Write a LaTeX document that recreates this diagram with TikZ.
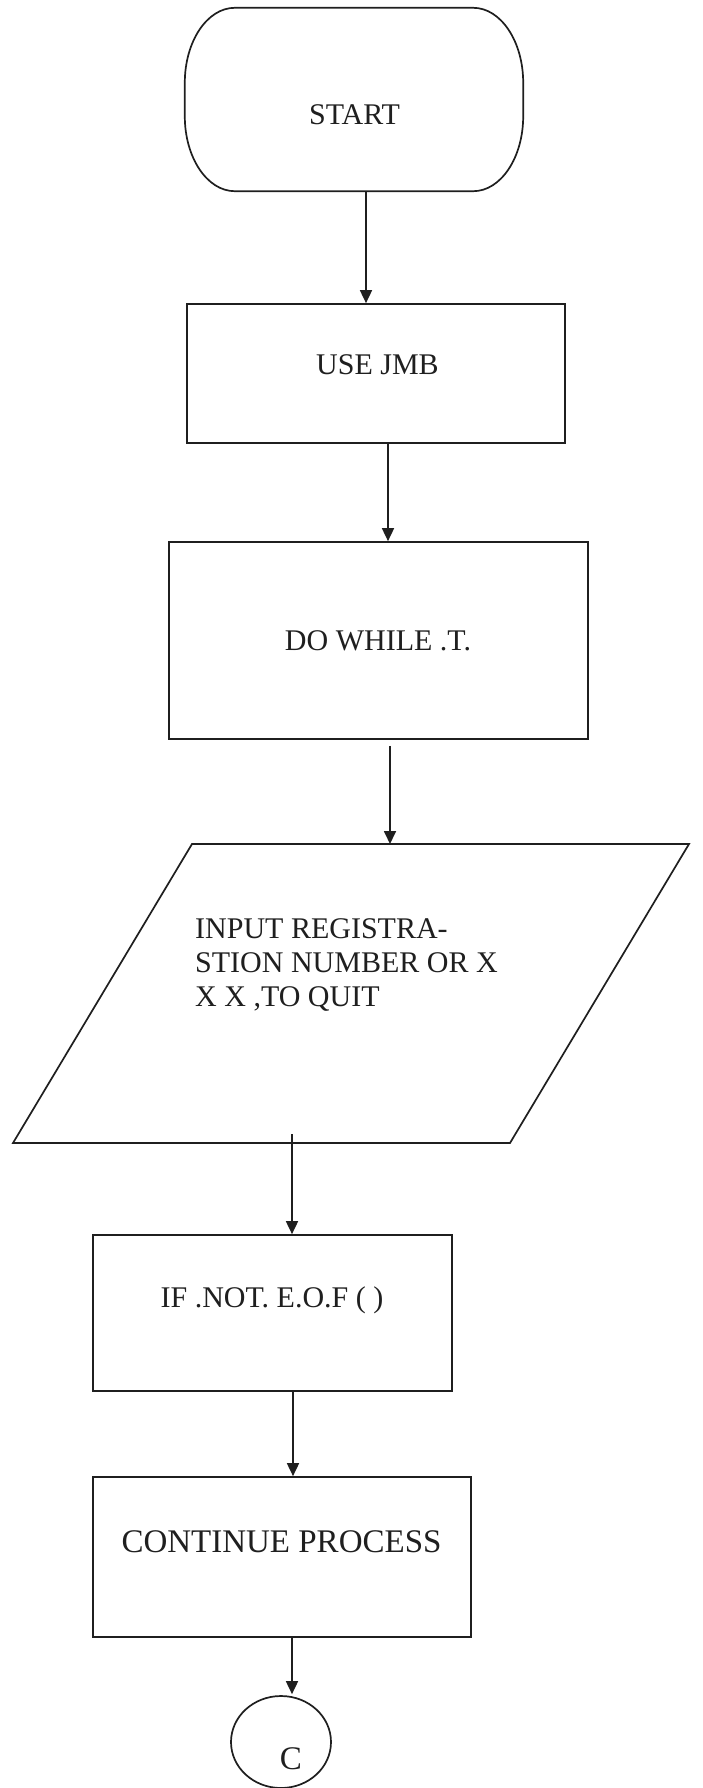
\documentclass[tikz,border=0pt]{standalone}
\usepackage{fontspec}
\setmainfont{Liberation Serif}
\usetikzlibrary{arrows.meta,shapes.geometric}
\begin{document}
\begin{tikzpicture}[x=1pt,y=1pt,
  ink/.style={black!88},
  outline/.style={draw=black!88, line width=1.7pt},
  box/.style={outline, rectangle, inner sep=0pt},
  frame/.style={rectangle, inner sep=0pt},
  lbl/.style={inner sep=0pt, text=black!88, text height=20pt, text depth=0pt,
    font=\fontsize{30}{34}\selectfont},
  biglbl/.style={lbl, text height=22pt, font=\fontsize{33}{36}\selectfont},
  para/.style={inner sep=0pt, text=black!88, align=left,
    font=\fontsize{30}{34}\selectfont},
  flow/.style={draw=black!88, line width=1.7pt,
    -{Triangle[length=13pt,width=12pt]}}]

\useasboundingbox[fill=white] (0,0) rectangle (702,-1788);

% terminal: flat top and bottom, elliptic ends
\node[frame, minimum width=338pt, minimum height=183pt] (start) at (354,-99.5) {};
\draw[outline]
  ([xshift=50pt]start.north west) -- ([xshift=-50pt]start.north east)
  arc[start angle=90, end angle=0, x radius=50, y radius=75]
  -- ([yshift=75pt]start.south east)
  arc[start angle=0, end angle=-90, x radius=50, y radius=75]
  -- ([xshift=50pt]start.south west)
  arc[start angle=270, end angle=180, x radius=50, y radius=75]
  -- ([yshift=-75pt]start.north west)
  arc[start angle=180, end angle=90, x radius=50, y radius=75]
  -- cycle;
\node[lbl] (starttxt) at (354.5,-114) {START};

% process boxes
\node[box, minimum width=378pt, minimum height=139pt] (usejmb) at (376,-373.5) {};
\node[lbl] (usejmbtxt) at (377.5,-364) {USE JMB};

\node[box, minimum width=419pt, minimum height=197pt] (dowhile) at (378.5,-640.5) {};
\node[lbl] (dowhiletxt) at (378,-640) {DO WHILE .T.};

% input parallelogram
\coordinate (pTL) at (192,-844);
\coordinate (pTR) at (689,-844);
\coordinate (pBR) at (510,-1143);
\coordinate (pBL) at (13,-1143);
\draw[outline] (pTL) -- (pTR) -- (pBR) -- (pBL) -- cycle;
\coordinate (inputin) at (390,-844);
\coordinate (inputout) at (292,-1134);
\node[para, anchor=north west] (inputtxt) at (195,-918)
  {INPUT REGISTRA-\\STION NUMBER OR X\\X X ,TO QUIT};

\node[box, minimum width=359pt, minimum height=156pt] (ifeof) at (272.5,-1313) {};
\node[lbl] (ifeoftxt) at (272,-1297) {IF .NOT. E.O.F ( )};

\node[box, minimum width=378pt, minimum height=160pt] (cont) at (282,-1557) {};
\node[biglbl] (conttxt) at (281.5,-1541.5) {CONTINUE PROCESS};

% off-page connector
\node[ellipse, outline, inner sep=0pt, minimum width=100pt, minimum height=92pt]
  (conn) at (281,-1742) {};
\node[biglbl] (conntxt) at (291,-1758) {C};

% flow lines
\draw[flow] ([xshift=12pt]start.south) -- ([xshift=-10pt]usejmb.north);
\draw[flow] ([xshift=12pt]usejmb.south) -- ([xshift=9.5pt]dowhile.north);
\draw[flow] ([xshift=11.5pt,yshift=-6pt]dowhile.south) -- (inputin);
\draw[flow] (inputout) -- ([xshift=19.5pt]ifeof.north);
\draw[flow] ([xshift=20.5pt]ifeof.south) -- ([xshift=11pt]cont.north);
\draw[flow] ([xshift=10pt]cont.south) -- ([xshift=11pt,yshift=1pt]conn.north);
\end{tikzpicture}
\end{document}
